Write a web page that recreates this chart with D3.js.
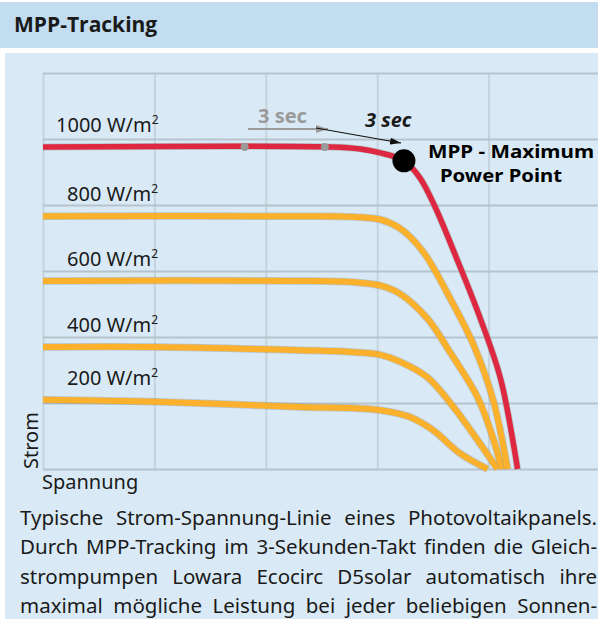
<!DOCTYPE html>
<html lang="de">
<head>
<meta charset="UTF-8">
<title>MPP-Tracking</title>
<script src="https://cdn.jsdelivr.net/npm/d3@7"></script>
<style>
  body { margin: 0; background: #fff; }
  svg { display: block; }
  text { font-family: "Noto Sans", sans-serif; fill: #1a1a1a; }
</style>
</head>
<body>
<div id="chart"></div>
<script>
// Spannung (x) / Strom (y) points, grid units
const curve1000 = [[0, 4.88], [2.58, 4.88], [2.85, 4.85], [3.03, 4.79], [3.24, 4.67], [3.38, 4.42], [3.52, 3.97], [3.73, 3.12], [3.93, 2.26], [4.11, 1.35], [4.26, 0]];
const curve800 = [[0, 3.83], [2.31, 3.83], [2.8, 3.82], [3.03, 3.78], [3.2, 3.65], [3.34, 3.44], [3.45, 3.2], [3.65, 2.6], [3.86, 1.9], [4.04, 1.05], [4.17, 0]];
const curve600 = [[0, 2.85], [2.31, 2.85], [2.8, 2.83], [3.03, 2.78], [3.2, 2.66], [3.45, 2.28], [3.65, 1.78], [3.9, 1.09], [4.03, 0.52], [4.12, 0]];
const curve400 = [[0, 1.85], [1.01, 1.85], [2.31, 1.8], [2.8, 1.77], [3.03, 1.73], [3.2, 1.63], [3.45, 1.39], [3.68, 0.95], [3.9, 0.44], [4.08, 0]];
const curve200 = [[0, 1.05], [1.01, 1.02], [2.31, 0.94], [2.8, 0.92], [3.03, 0.89], [3.29, 0.79], [3.5, 0.59], [3.74, 0.24], [3.99, 0]];

const irradiance = [1000, 800, 600, 400, 200];
const curves = [curve1000, curve800, curve600, curve400, curve200];

const mpp = [3.24, 4.67];          // maximum power point on the 1000 W/m2 curve
const trackSteps = [1.81, 2.53];   // earlier 3-second tracking steps

const caption = [
  "Typische Strom-Spannung-Linie eines Photovoltaikpanels.",
  "Durch MPP-Tracking im 3-Sekunden-Takt finden die Gleich-",
  "strompumpen Lowara Ecocirc D5solar automatisch ihre",
  "maximal mögliche Leistung bei jeder beliebigen Sonnen-"
];

const W = 598, H = 619;
const svg = d3.select("#chart").append("svg").attr("width", W).attr("height", H);

// header + panel
svg.append("rect").attr("x", 0).attr("y", 2).attr("width", W).attr("height", 46).attr("fill", "#c2ddef");
svg.append("text").attr("x", 14).attr("y", 32)
  .style("font-family", "'Open Sans', sans-serif").style("font-weight", 700).style("font-size", "21px")
  .text("MPP-Tracking");
svg.append("rect").attr("x", 5).attr("y", 53).attr("width", W - 5).attr("height", H - 53).attr("fill", "#d9eaf6");

const x = d3.scaleLinear().domain([0, 5]).range([43, 600]);
const y = d3.scaleLinear().domain([0, 6]).range([469, 73]);

// grid
svg.append("g").attr("transform", `translate(0,${y(0)})`)
  .call(d3.axisBottom(x).ticks(5).tickSize(-(y(0) - y(6))).tickFormat(""))
  .call(g => g.select(".domain").remove())
  .call(g => g.selectAll("line").attr("stroke", "#c6d3dc").attr("stroke-width", 2));
svg.append("g").attr("transform", `translate(${x(0)},0)`)
  .call(d3.axisLeft(y).ticks(6).tickSize(-(x(5) - x(0))).tickFormat(""))
  .call(g => g.select(".domain").remove())
  .call(g => g.selectAll("line").attr("stroke", "#b7c3cb").attr("stroke-width", 2));

const line = d3.line().x(d => x(d[0])).y(d => y(d[1])).curve(d3.curveCatmullRom.alpha(0.5));

// curves, weakest first so the red one ends on top
const order = [4, 3, 2, 1, 0];
order.forEach(i => {
  const red = i === 0;
  svg.append("path").datum(curves[i]).attr("d", line)
    .attr("fill", "none").attr("stroke", "#7d7a6a").attr("stroke-opacity", 0.35)
    .attr("stroke-width", red ? 7 : 7.5).attr("stroke-linejoin", "round");
  svg.append("path").datum(curves[i]).attr("d", line)
    .attr("fill", "none").attr("stroke", red ? "#de2842" : "#fbb12c")
    .attr("stroke-width", red ? 5.5 : 6).attr("stroke-linejoin", "round");
});

// irradiance labels
irradiance.forEach((v, i) => {
  const t = svg.append("text")
    .attr("x", i === 0 ? 56 : 67)
    .attr("y", y(curves[i][0][1]) - 15)
    .style("font-size", "20px");
  t.append("tspan").text(v + " W/m");
  t.append("tspan").attr("dy", -8).style("font-size", "12px").text("2");
});

// tracking steps
svg.selectAll(".step").data(trackSteps).join("circle")
  .attr("cx", d => x(d)).attr("cy", y(curve1000[0][1]))
  .attr("r", 4).attr("fill", "#9a9a9a");

const defs = svg.append("defs");
defs.append("marker").attr("id", "grayHead").attr("viewBox", "0 0 12 8")
  .attr("refX", 12).attr("refY", 4).attr("markerWidth", 12).attr("markerHeight", 8)
  .attr("markerUnits", "userSpaceOnUse").attr("orient", "auto")
  .append("path").attr("d", "M0,0L12,4L0,8Z").attr("fill", "#9a9a9a");
defs.append("marker").attr("id", "blackHead").attr("viewBox", "0 0 11 7")
  .attr("refX", 11).attr("refY", 3.5).attr("markerWidth", 11).attr("markerHeight", 7)
  .attr("markerUnits", "userSpaceOnUse").attr("orient", "auto")
  .append("path").attr("d", "M0,0L11,3.5L0,7Z").attr("fill", "#111");

svg.append("line").attr("x1", 248).attr("y1", 129).attr("x2", 328).attr("y2", 129)
  .attr("stroke", "#9a9a9a").attr("stroke-width", 2).attr("marker-end", "url(#grayHead)");
svg.append("line").attr("x1", 316).attr("y1", 128).attr("x2", 401).attr("y2", 143)
  .attr("stroke", "#111").attr("stroke-width", 1.2).attr("marker-end", "url(#blackHead)");

svg.append("text").attr("x", 258).attr("y", 123)
  .style("font-weight", 700).style("font-size", "20px").style("fill", "#9a9a9a").text("3 sec");
svg.append("text").attr("x", 365).attr("y", 127)
  .style("font-weight", 700).style("font-style", "italic").style("font-size", "20px").text("3 sec");

// MPP marker and its two-line label (stretched to the wide heavy face of the original)
svg.append("circle").attr("cx", x(mpp[0])).attr("cy", y(mpp[1])).attr("r", 11.5).attr("fill", "#000");
svg.append("text").attr("x", 428).attr("y", 158)
  .attr("textLength", 166).attr("lengthAdjust", "spacingAndGlyphs")
  .style("font-weight", 700).style("font-size", "17px").style("fill", "#000").text("MPP - Maximum");
svg.append("text").attr("x", 440).attr("y", 181.5)
  .attr("textLength", 122).attr("lengthAdjust", "spacingAndGlyphs")
  .style("font-weight", 700).style("font-size", "17px").style("fill", "#000").text("Power Point");

// axis titles
svg.append("text").attr("transform", "translate(38,469) rotate(-90)")
  .style("font-size", "20px").text("Strom");
svg.append("text").attr("x", 42).attr("y", 489)
  .style("font-size", "20px").text("Spannung");

// caption, justified line by line
const left = 20, right = 597;
caption.forEach((ln, i) => {
  const words = ln.split(" ");
  const g = svg.append("g");
  const nodes = words.map(w => g.append("text").attr("y", 525 + i * 29.3).style("font-size", "20.5px").text(w));
  const widths = nodes.map(n => n.node().getComputedTextLength());
  const gap = (right - left - d3.sum(widths)) / (words.length - 1);
  let cx = left;
  nodes.forEach((n, k) => { n.attr("x", cx); cx += widths[k] + gap; });
});
</script>
</body>
</html>
